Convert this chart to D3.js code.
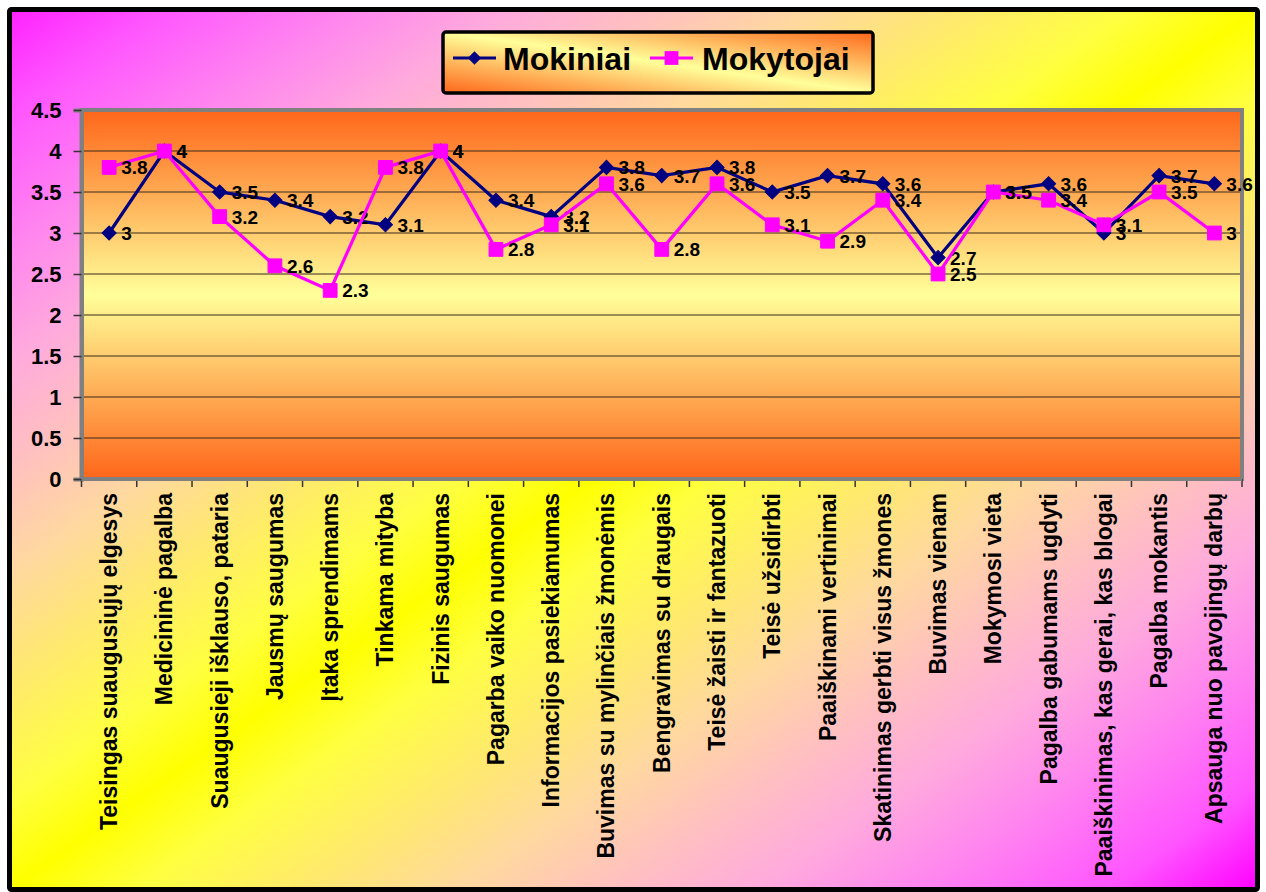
<!DOCTYPE html>
<html><head><meta charset="utf-8">
<script src="https://cdn.jsdelivr.net/npm/d3@7"></script>
<style>html,body{margin:0;padding:0;background:#fff;}svg{display:block;}</style>
</head><body>
<script>
const categories = [
  "Teisingas suaugusiųjų elgesys","Medicininė pagalba","Suaugusieji išklauso, pataria",
  "Jausmų saugumas","Įtaka sprendimams","Tinkama mityba","Fizinis saugumas",
  "Pagarba vaiko nuomonei","Informacijos pasiekiamumas","Buvimas su mylinčiais žmonėmis",
  "Bengravimas su draugais","Teisė žaisti ir fantazuoti","Teisė užsidirbti",
  "Paaiškinami vertinimai","Skatinimas gerbti visus žmones","Buvimas vienam",
  "Mokymosi vieta","Pagalba gabumams ugdyti","Paaiškinimas, kas gerai, kas blogai",
  "Pagalba mokantis","Apsauga nuo pavojingų darbų"
];
const mokiniai  = [3,4,3.5,3.4,3.2,3.1,4,3.4,3.2,3.8,3.7,3.8,3.5,3.7,3.6,2.7,3.5,3.6,3,3.7,3.6];
const mokytojai = [3.8,4,3.2,2.6,2.3,3.8,4,2.8,3.1,3.6,2.8,3.6,3.1,2.9,3.4,2.5,3.5,3.4,3.1,3.5,3];
const yTicks = [0,0.5,1,1.5,2,2.5,3,3.5,4,4.5];
const seriesNames = ["Mokiniai","Mokytojai"];

const W = 1266, H = 892;
const svg = d3.select("body").append("svg").attr("width", W).attr("height", H);
const defs = svg.append("defs");

const bg = defs.append("linearGradient").attr("id","bg").attr("x1",0).attr("y1",0).attr("x2",1).attr("y2",1);
const half = [[0,"#ff22ff"],[0.06,"#ff55ff"],[0.14,"#ff88ee"],[0.2,"#ffaadd"],[0.26,"#ffc0c0"],[0.32,"#ffd8a0"],[0.38,"#ffe870"],[0.45,"#ffff40"],[0.5,"#ffff00"]];
half.forEach(([o,c]) => bg.append("stop").attr("offset",o).attr("stop-color",c));
half.slice(0,-1).reverse().forEach(([o,c],i) => bg.append("stop").attr("offset",1-o).attr("stop-color", o===0 ? "#ff00ff" : c));

const pg = defs.append("linearGradient").attr("id","pg").attr("x1",0).attr("y1",0).attr("x2",0).attr("y2",1);
[[0,"#ff661a"],[0.5,"#ffff99"],[1,"#ff661a"]].forEach(([o,c]) => pg.append("stop").attr("offset",o).attr("stop-color",c));

const lg = defs.append("linearGradient").attr("id","lg").attr("x1",0).attr("y1",1).attr("x2",1).attr("y2",0);
[[0,"#ff661a"],[0.5,"#ffff99"],[1,"#ff661a"]].forEach(([o,c]) => lg.append("stop").attr("offset",o).attr("stop-color",c));

// outer frame
svg.append("rect").attr("x",9.5).attr("y",9.5).attr("width",1248).attr("height",880)
  .attr("fill","url(#bg)").attr("stroke","#000").attr("stroke-width",5).attr("rx",2);

const x = d3.scaleBand().domain(categories).range([81.5,1242]).padding(0);
const y = d3.scaleLinear().domain([0,4.5]).range([479,110]);

// plot area
svg.append("rect").attr("x",81.5).attr("y",110).attr("width",1242-81.5).attr("height",479-110)
  .attr("fill","url(#pg)");

// gridlines
svg.append("g").selectAll("line").data(yTicks.filter(t => t>0 && t<4.5)).join("line")
  .attr("x1",81.5).attr("x2",1242).attr("y1",d=>y(d)).attr("y2",d=>y(d))
  .attr("stroke","#3a2a1a").attr("stroke-width",1.2);

// plot border
svg.append("rect").attr("x",81.5).attr("y",110).attr("width",1242-81.5).attr("height",479-110)
  .attr("fill","none").attr("stroke","#808080").attr("stroke-width",4);

// y axis
const yAxis = d3.axisLeft(y).tickValues(yTicks).tickSize(8).tickPadding(12).tickFormat(d3.format("~g"));
const ya = svg.append("g").attr("transform","translate(81.5,0)").call(yAxis);
ya.select(".domain").attr("stroke","#808080").attr("stroke-width",4);
ya.selectAll(".tick line").attr("stroke","#333").attr("stroke-width",1.5);
ya.selectAll(".tick text").attr("font-family","'Liberation Sans', Arial, sans-serif")
  .attr("font-weight","bold").attr("font-size",22).attr("fill","#000").attr("x",-20).attr("dy","0.36em");

// x axis
const xa = svg.append("g").attr("transform","translate(0,479)");
const bounds = d3.range(categories.length+1).map(i => x.range()[0] + i*x.bandwidth());
xa.selectAll("line.tk").data(bounds).join("line").attr("class","tk")
  .attr("x1",d=>d).attr("x2",d=>d).attr("y1",0).attr("y2",8).attr("stroke","#333").attr("stroke-width",1.5);
xa.append("line").attr("x1",81.5).attr("x2",1242).attr("y1",0).attr("y2",0).attr("stroke","#808080").attr("stroke-width",4);
xa.selectAll("text").data(categories).join("text")
  .attr("transform", d => `translate(${x(d)+x.bandwidth()/2+8},14) rotate(-90)`)
  .attr("text-anchor","end")
  .attr("font-family","'Liberation Sans', Arial, sans-serif").attr("font-weight","bold").attr("font-size",23)
  .attr("fill","#000").text(d=>d);

const cx = d => x(d) + x.bandwidth()/2;
const line = d3.line().x(d=>cx(d.c)).y(d=>y(d.v));

function drawSeries(vals, color, shape) {
  const data = vals.map((v,i)=>({c:categories[i], v}));
  const g = svg.append("g");
  g.append("path").datum(data).attr("d",line).attr("fill","none").attr("stroke",color).attr("stroke-width",3.2).attr("stroke-linejoin","miter");
  g.selectAll("path.m").data(data).join("path").attr("class","m")
    .attr("transform", d => `translate(${cx(d.c)},${y(d.v)})${shape==="diamond"?" rotate(45)":""}`)
    .attr("d", d3.symbol().type(d3.symbolSquare).size(shape==="diamond" ? 100 : 190)())
    .attr("fill",color).attr("stroke",color).attr("stroke-width",1);
  g.selectAll("text").data(data).join("text")
    .attr("x", d => cx(d.c)+12).attr("y", d => y(d.v)+7)
    .attr("font-family","'Liberation Sans', Arial, sans-serif").attr("font-weight","bold").attr("font-size",19)
    .attr("fill","#000").text(d => d3.format("~g")(d.v));
}
drawSeries(mokiniai, "#000080", "diamond");
drawSeries(mokytojai, "#ff00ff", "square");

// legend
const leg = svg.append("g");
leg.append("rect").attr("x",443).attr("y",32).attr("width",430).attr("height",61).attr("rx",3)
  .attr("fill","url(#lg)").attr("stroke","#000").attr("stroke-width",3.5);
const legItems = [
  {name:seriesNames[0], color:"#000080", shape:"diamond", x0:453, tx:503},
  {name:seriesNames[1], color:"#ff00ff", shape:"square", x0:650, tx:702}
];
legItems.forEach(it => {
  leg.append("line").attr("x1",it.x0).attr("x2",it.x0+43).attr("y1",58).attr("y2",58).attr("stroke",it.color).attr("stroke-width",3);
  leg.append("path").attr("d", d3.symbol().type(d3.symbolSquare).size(it.shape==="diamond" ? 90 : 190)())
    .attr("transform",`translate(${it.x0+21.5},58)${it.shape==="diamond" ? " rotate(45)" : ""}`).attr("fill",it.color);
  leg.append("text").attr("x",it.tx).attr("y",70).attr("font-family","'Liberation Sans', Arial, sans-serif")
    .attr("font-weight","bold").attr("font-size",32).attr("fill","#000").text(it.name);
});
</script>
</body></html>
